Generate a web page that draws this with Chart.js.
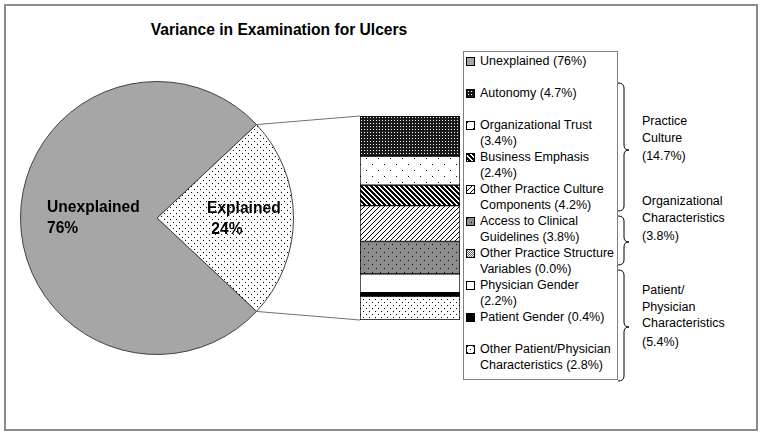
<!DOCTYPE html>
<html lang="en">
<head>
  <meta charset="UTF-8">
  <title>Variance in Examination for Ulcers</title>
  <script src="https://cdn.jsdelivr.net/npm/chart.js"></script>
  <style>
    body { margin: 0; width: 762px; height: 435px; position: relative; background: #fff;
           font-family: "Liberation Sans", Arial, sans-serif; color: #000; overflow: hidden; }
    .frame { position: absolute; left: 4px; top: 4px; width: 750px; height: 423px; border: 2px solid #8c8c8c; }
    .title { position: absolute; left: 100px; width: 358px; top: 21px; text-align: center;
             font-weight: bold; font-size: 15.6px; }
    .pielabel { position: absolute; font-weight: bold; font-size: 15.6px; line-height: 21px; }
    canvas { position: absolute; }
    #legend { position: absolute; left: 463px; top: 51px; width: 153px; height: 327px;
              border: 1px solid #808080; font-size: 12.5px; line-height: 16px; }
    .item { position: absolute; left: 16px; width: 136px; }
    .mark { position: absolute; left: -14px; top: 4px; width: 7px; height: 7px; border: 1px solid #000; }
    .group { position: absolute; left: 642px; font-size: 12.5px; line-height: 16.5px; }
    .group .pct { margin-top: 2px; }
    svg { position: absolute; left: 0; top: 0; }
  </style>
</head>
<body>
  <div class="frame"></div>
  <div class="title">Variance in Examination for Ulcers</div>
  <canvas id="pie" width="274" height="274" style="left:20px;top:81px"></canvas>
  <canvas id="bar" width="100" height="204" style="left:360px;top:116px"></canvas>
  <div id="lblUnexp" class="pielabel" style="left:47px;top:196px"></div>
  <div id="lblExp" class="pielabel" style="left:207px;top:197px"></div>
  <div id="legend"></div>
  <div id="groups"></div>
  <svg id="overlay" width="762" height="435"></svg>

  <script>
    // pie
    const pieLabels = ["Explained", "Unexplained"];
    const pieValues = [24, 76];

    // breakdown of the explained part (top to bottom in the bar)
    const categories = ["Autonomy", "Organizational Trust", "Business Emphasis",
      "Other Practice Culture Components", "Access to Clinical Guidelines",
      "Other Practice Structure Variables", "Physician Gender", "Patient Gender",
      "Other Patient/Physician Characteristics"];
    const values = [4.7, 3.4, 2.4, 4.2, 3.8, 0.0, 2.2, 0.4, 2.8];

    // groups shown with braces
    const groupNames = [["Practice", "Culture"], ["Organizational", "Characteristics"],
      ["Patient/", "Physician", "Characteristics"]];
    const groupMembers = [[0, 1, 2, 3], [4, 5], [6, 7, 8]];

    // --- fill patterns ---
    function tile(w, h, bg, draw) {
      const c = document.createElement("canvas");
      c.width = w; c.height = h;
      const g = c.getContext("2d");
      g.fillStyle = bg; g.fillRect(0, 0, w, h);
      g.fillStyle = "#000";
      draw(g);
      return c;
    }
    const tiles = {
      denseDots: tile(6, 6, "#fff", g => { g.fillRect(0, 0, 1, 1); g.fillRect(3, 3, 1, 1); }),
      sparseDots: tile(12, 12, "#fff", g => { g.fillRect(0, 0, 1, 1); g.fillRect(6, 6, 1, 1); }),
      checker: tile(3, 3, "#1a1a1a", g => { g.fillStyle = "#fff"; g.fillRect(1, 1, 1, 1); }),
      darkDiag: tile(5, 5, "#fff", g => { for (let i = 0; i < 5; i++) { g.fillRect(i, i, 3, 1); g.fillRect(i - 5, i, 3, 1); } }),
      lightDiag: tile(5, 5, "#fff", g => { for (let i = 0; i < 5; i++) { g.fillRect(4 - i, i, 1, 1); } }),
      grayDots: tile(8, 8, "#8c8c8c", g => { g.fillRect(0, 0, 1, 1); g.fillRect(4, 4, 1, 1); }),
      grayChecker: tile(2, 2, "#fff", g => { g.fillStyle = "#666"; g.fillRect(0, 0, 1, 1); g.fillRect(1, 1, 1, 1); }),
      white: tile(2, 2, "#fff", g => {}),
      black: tile(2, 2, "#000", g => {}),
      gray: tile(2, 2, "#a6a6a6", g => {})
    };
    const catTiles = ["checker", "sparseDots", "darkDiag", "lightDiag", "grayDots",
      "grayChecker", "white", "black", "denseDots"];
    const pieTiles = ["denseDots", "gray"];

    function pat(ctx, name) { return ctx.createPattern(tiles[name], "repeat"); }

    const total = values.reduce((a, b) => a + b, 0);

    // --- pie ---
    const pieCtx = document.getElementById("pie").getContext("2d");
    const pieChart = new Chart(pieCtx, {
      type: "pie",
      data: {
        labels: pieLabels,
        datasets: [{
          data: pieValues,
          backgroundColor: pieTiles.map(t => pat(pieCtx, t)),
          borderColor: "#404040",
          borderWidth: 1
        }]
      },
      options: {
        responsive: false,
        animation: false,
        rotation: 90 - pieValues[0] * 3.6 / 2,
        layout: { padding: 0 },
        plugins: { legend: { display: false }, tooltip: { enabled: false } }
      }
    });

    // --- stacked bar ---
    const barCtx = document.getElementById("bar").getContext("2d");
    const barChart = new Chart(barCtx, {
      type: "bar",
      data: {
        labels: [""],
        datasets: categories.map((c, i) => ({
          label: c,
          data: [values[i]],
          backgroundColor: pat(barCtx, catTiles[i]),
          borderColor: "#000",
          borderWidth: 1,
          borderSkipped: false,
          barPercentage: 1,
          categoryPercentage: 1
        }))
      },
      options: {
        responsive: false,
        animation: false,
        layout: { padding: 0 },
        plugins: { legend: { display: false }, tooltip: { enabled: false } },
        scales: {
          x: { display: false, stacked: true },
          y: { display: false, stacked: true, reverse: true, min: 0, max: total }
        }
      }
    });

    // --- pie labels ---
    document.getElementById("lblExp").innerHTML = pieLabels[0] + "<br>&nbsp;" + pieValues[0] + "%";
    document.getElementById("lblUnexp").innerHTML = pieLabels[1] + "<br>" + pieValues[1] + "%";

    // --- legend ---
    const legend = document.getElementById("legend");
    const entries = [{ text: pieLabels[1] + " (" + pieValues[1] + "%)", t: pieTiles[1] }]
      .concat(categories.map((c, i) => ({ text: c + " (" + values[i].toFixed(1) + "%)", t: catTiles[i] })));
    entries.forEach((e, i) => {
      const d = document.createElement("div");
      d.className = "item";
      d.style.top = (1 + i * 32) + "px";
      const m = document.createElement("span");
      m.className = "mark";
      m.style.backgroundImage = "url(" + tiles[e.t].toDataURL() + ")";
      d.appendChild(m);
      d.appendChild(document.createTextNode(e.text));
      legend.appendChild(d);
    });

    // --- group labels ---
    const groupTops = [113, 193, 282];
    const groups = document.getElementById("groups");
    groupNames.forEach((lines, gi) => {
      const sum = groupMembers[gi].reduce((a, k) => a + values[k], 0);
      const d = document.createElement("div");
      d.className = "group";
      d.style.top = groupTops[gi] + "px";
      d.innerHTML = lines.map(l => "<div>" + l + "</div>").join("") +
        '<div class="pct">(' + sum.toFixed(1) + "%)</div>";
      groups.appendChild(d);
    });

    // --- connector lines and braces ---
    const svg = document.getElementById("overlay");
    function line(x1, y1, x2, y2) {
      const l = document.createElementNS("http://www.w3.org/2000/svg", "line");
      l.setAttribute("x1", x1); l.setAttribute("y1", y1);
      l.setAttribute("x2", x2); l.setAttribute("y2", y2);
      l.setAttribute("stroke", "#707070"); l.setAttribute("stroke-width", "1");
      svg.appendChild(l);
    }
    const arc = pieChart.getDatasetMeta(0).data[0];
    const px = 20, py = 81, bx = 360, by = 116;
    const bar0 = barChart.getDatasetMeta(0).data[0];
    const ys = barChart.scales.y;
    const barLeft = bx + bar0.x - bar0.width / 2;
    line(px + arc.x + arc.outerRadius * Math.cos(arc.startAngle), py + arc.y + arc.outerRadius * Math.sin(arc.startAngle),
      barLeft, by + ys.getPixelForValue(0));
    line(px + arc.x + arc.outerRadius * Math.cos(arc.endAngle), py + arc.y + arc.outerRadius * Math.sin(arc.endAngle),
      barLeft, by + ys.getPixelForValue(total));

    function brace(y1, y2, ym) {
      const x0 = 618, x1 = 624, x2 = 629, r = 5;
      const p = document.createElementNS("http://www.w3.org/2000/svg", "path");
      p.setAttribute("d", `M${x0} ${y1} Q${x1} ${y1} ${x1} ${y1 + r} L${x1} ${ym - r} Q${x1} ${ym} ${x2} ${ym}` +
        ` Q${x1} ${ym} ${x1} ${ym + r} L${x1} ${y2 - r} Q${x1} ${y2} ${x0} ${y2}`);
      p.setAttribute("fill", "none"); p.setAttribute("stroke", "#000"); p.setAttribute("stroke-width", "1");
      svg.appendChild(p);
    }
    brace(83, 211, 150);
    brace(216, 265, 242);
    brace(270, 381, 327);
  </script>
</body>
</html>
